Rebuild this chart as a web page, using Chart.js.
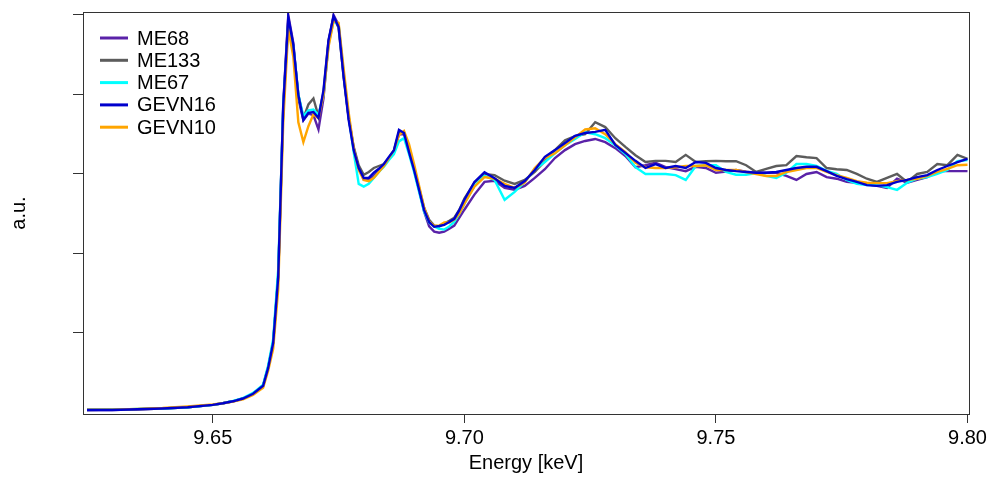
<!DOCTYPE html>
<html>
<head>
<meta charset="utf-8">
<script src="https://cdn.jsdelivr.net/npm/chart.js@4.4.1/dist/chart.umd.min.js"></script>
<style>
  html, body { margin: 0; padding: 0; background: #fff; }
  #wrap { width: 991px; height: 477px; }
</style>
</head>
<body>
<div id="wrap"><canvas id="xanesChart"></canvas></div>
<script>
// Energy grid [keV]
const energy = [
  9.625, 9.630, 9.635, 9.640, 9.645, 9.650, 9.652, 9.654, 9.656, 9.658,
  9.659, 9.660, 9.661, 9.662, 9.663, 9.664, 9.665, 9.666, 9.667, 9.668,
  9.669, 9.670, 9.671, 9.672, 9.673, 9.674, 9.675, 9.676, 9.677, 9.678,
  9.679, 9.680, 9.681, 9.682, 9.683, 9.684, 9.685, 9.686, 9.687, 9.688,
  9.689, 9.690, 9.691, 9.692, 9.693, 9.694, 9.695, 9.696, 9.697, 9.698,
  9.699, 9.700, 9.702, 9.704, 9.706, 9.708, 9.710, 9.712, 9.714, 9.716,
  9.718, 9.720, 9.722, 9.724, 9.726, 9.728, 9.730, 9.732, 9.734, 9.736,
  9.738, 9.740, 9.742, 9.744, 9.746, 9.748, 9.750, 9.752, 9.754, 9.756,
  9.758, 9.760, 9.762, 9.764, 9.766, 9.768, 9.770, 9.772, 9.774, 9.776,
  9.778, 9.780, 9.782, 9.784, 9.786, 9.788, 9.790, 9.792, 9.794, 9.796,
  9.798, 9.800
];

// normalised absorption (a.u.)
const me68 = [
  0.006, 0.006, 0.008, 0.010, 0.013, 0.019, 0.023, 0.028, 0.035, 0.047,
  0.057, 0.068, 0.114, 0.178, 0.345, 0.775, 1.000, 0.930, 0.790, 0.735,
  0.752, 0.748, 0.712, 0.790, 0.930, 1.000, 0.975, 0.850, 0.742, 0.665,
  0.615, 0.585, 0.585, 0.595, 0.608, 0.622, 0.640, 0.655, 0.700, 0.700,
  0.662, 0.612, 0.560, 0.505, 0.468, 0.455, 0.452, 0.455, 0.462, 0.470,
  0.490, 0.510, 0.548, 0.580, 0.583, 0.565, 0.560, 0.570, 0.590, 0.612,
  0.640, 0.660, 0.675, 0.683, 0.688, 0.680, 0.665, 0.645, 0.617, 0.622,
  0.628, 0.617, 0.612, 0.607, 0.618, 0.615, 0.603, 0.606, 0.610, 0.606,
  0.603, 0.603, 0.603, 0.595, 0.585, 0.600, 0.605, 0.592, 0.588, 0.580,
  0.578, 0.574, 0.570, 0.565, 0.588, 0.578, 0.585, 0.592, 0.607, 0.607,
  0.607, 0.607
];
const me133 = [
  0.006, 0.007, 0.008, 0.010, 0.013, 0.019, 0.023, 0.028, 0.035, 0.047,
  0.057, 0.067, 0.112, 0.175, 0.340, 0.765, 0.985, 0.920, 0.800, 0.740,
  0.775, 0.790, 0.745, 0.805, 0.935, 0.995, 0.968, 0.845, 0.742, 0.668,
  0.622, 0.598, 0.605, 0.615, 0.620, 0.625, 0.640, 0.658, 0.705, 0.705,
  0.660, 0.615, 0.565, 0.515, 0.485, 0.470, 0.468, 0.475, 0.482, 0.490,
  0.510, 0.538, 0.578, 0.600, 0.597, 0.583, 0.575, 0.585, 0.605, 0.632,
  0.660, 0.685, 0.695, 0.700, 0.730, 0.718, 0.690, 0.668, 0.647, 0.630,
  0.633, 0.633, 0.630, 0.648, 0.630, 0.632, 0.633, 0.632, 0.632, 0.622,
  0.605, 0.613, 0.620, 0.622, 0.645, 0.642, 0.640, 0.615, 0.612, 0.610,
  0.600, 0.588, 0.580, 0.590, 0.600, 0.580, 0.600, 0.605, 0.625, 0.622,
  0.648, 0.638
];
const me67 = [
  0.007, 0.007, 0.009, 0.010, 0.013, 0.019, 0.023, 0.029, 0.036, 0.049,
  0.059, 0.070, 0.118, 0.185, 0.360, 0.768, 0.975, 0.920, 0.800, 0.745,
  0.760, 0.762, 0.748, 0.800, 0.925, 0.985, 0.975, 0.855, 0.745, 0.655,
  0.575, 0.568, 0.575, 0.590, 0.605, 0.618, 0.635, 0.650, 0.682, 0.690,
  0.650, 0.605, 0.555, 0.505, 0.478, 0.468, 0.462, 0.460, 0.468, 0.480,
  0.500, 0.525, 0.570, 0.595, 0.585, 0.535, 0.555, 0.580, 0.612, 0.630,
  0.652, 0.672, 0.688, 0.705, 0.700, 0.690, 0.672, 0.650, 0.617, 0.600,
  0.600, 0.600, 0.597, 0.585, 0.620, 0.622, 0.622, 0.605, 0.598, 0.598,
  0.602, 0.595, 0.590, 0.603, 0.625, 0.625, 0.620, 0.608, 0.600, 0.585,
  0.575, 0.572, 0.572, 0.567, 0.560, 0.578, 0.588, 0.592, 0.600, 0.610,
  0.632, 0.635
];
const gevn16 = [
  0.006, 0.006, 0.008, 0.010, 0.013, 0.019, 0.023, 0.028, 0.035, 0.047,
  0.057, 0.067, 0.112, 0.175, 0.341, 0.772, 0.994, 0.925, 0.799, 0.736,
  0.754, 0.756, 0.741, 0.811, 0.937, 0.997, 0.970, 0.844, 0.736, 0.660,
  0.615, 0.590, 0.590, 0.603, 0.613, 0.625, 0.643, 0.660, 0.711, 0.703,
  0.655, 0.610, 0.560, 0.509, 0.479, 0.467, 0.469, 0.472, 0.479, 0.487,
  0.509, 0.535, 0.580, 0.604, 0.589, 0.570, 0.565, 0.582, 0.610, 0.643,
  0.660, 0.678, 0.696, 0.703, 0.706, 0.711, 0.673, 0.653, 0.633, 0.615,
  0.625, 0.615, 0.620, 0.615, 0.630, 0.628, 0.615, 0.610, 0.607, 0.605,
  0.603, 0.603, 0.605, 0.610, 0.615, 0.618, 0.618, 0.607, 0.595, 0.587,
  0.580, 0.572, 0.570, 0.572, 0.580, 0.585, 0.592, 0.597, 0.610, 0.620,
  0.630, 0.638
];
const gevn10 = [
  0.007, 0.007, 0.009, 0.011, 0.015, 0.020, 0.023, 0.027, 0.033, 0.044,
  0.053, 0.062, 0.105, 0.160, 0.310, 0.730, 0.965, 0.895, 0.730, 0.680,
  0.720, 0.750, 0.740, 0.800, 0.920, 0.985, 0.980, 0.865, 0.755, 0.665,
  0.610, 0.585, 0.582, 0.590, 0.605, 0.620, 0.640, 0.660, 0.698, 0.708,
  0.675, 0.625, 0.570, 0.515, 0.480, 0.470, 0.470, 0.478, 0.478, 0.485,
  0.500, 0.525, 0.568, 0.592, 0.588, 0.575, 0.565, 0.578, 0.615, 0.640,
  0.652, 0.672, 0.692, 0.712, 0.715, 0.700, 0.675, 0.655, 0.628, 0.617,
  0.615, 0.615, 0.617, 0.620, 0.620, 0.622, 0.610, 0.610, 0.610, 0.605,
  0.600, 0.595, 0.595, 0.605, 0.610, 0.615, 0.615, 0.605, 0.597, 0.590,
  0.582, 0.578, 0.577, 0.577, 0.582, 0.585, 0.588, 0.595, 0.605, 0.613,
  0.622, 0.623
];

const seriesNames = ['ME68', 'ME133', 'ME67', 'GEVN16', 'GEVN10'];
const seriesColors = ['#5a22a8', '#5c5c5c', '#00ffff', '#0000cd', '#ffa500'];
const seriesData = [me68, me133, me67, gevn16, gevn10];
const drawOrder = [4, 3, 2, 0, 1]; // lower = drawn on top

const xTicks = [9.65, 9.70, 9.75, 9.80];
const yTicks = [0.2, 0.4, 0.6, 0.8, 1.0];

const FONT = '"Liberation Sans", Arial, Helvetica, sans-serif';

window.addEventListener("DOMContentLoaded", () => {
  const datasets = seriesNames.map((name, i) => ({
    label: name,
    data: energy.map((e, k) => ({ x: e, y: seriesData[i][k] })),
    borderColor: seriesColors[i],
    borderWidth: 2.4,
    pointRadius: 0,
    tension: 0,
    fill: false,
    order: drawOrder[i]
  }));

  // box round the plot region
  const frame = {
    id: 'frame',
    afterDraw(chart) {
      const { ctx, chartArea: a } = chart;
      ctx.save();
      ctx.strokeStyle = '#333';
      ctx.lineWidth = 1;
      ctx.strokeRect(a.left + 0.5, a.top + 0.5, a.right - a.left, a.bottom - a.top);
      ctx.restore();
    }
  };

  // legend inside top-left, no box
  const innerLegend = {
    id: 'innerLegend',
    afterDraw(chart) {
      const { ctx, chartArea: a } = chart;
      ctx.save();
      ctx.font = '20px ' + FONT;
      ctx.textBaseline = 'middle';
      chart.data.datasets.forEach((ds, i) => {
        const y = a.top + 26 + i * 22.3;
        ctx.strokeStyle = ds.borderColor;
        ctx.lineWidth = 3;
        ctx.beginPath();
        ctx.moveTo(a.left + 17, y);
        ctx.lineTo(a.left + 45, y);
        ctx.stroke();
        ctx.fillStyle = '#000';
        ctx.fillText(ds.label, a.left + 54, y + 1);
      });
      ctx.restore();
    }
  };

  const ctx = document.getElementById('xanesChart').getContext('2d');
  new Chart(ctx, {
    type: 'line',
    data: { datasets },
    plugins: [frame, innerLegend],
    options: {
      responsive: true,
      maintainAspectRatio: false,
      animation: false,
      layout: { padding: { top: 12, right: 22, left: 0, bottom: 0 } },
      plugins: {
        legend: { display: false },
        tooltip: { enabled: false }
      },
      scales: {
        x: {
          type: 'linear',
          min: 9.6242,
          max: 9.8003,
          afterBuildTicks: (scale) => { scale.ticks = xTicks.map(v => ({ value: v })); },
          afterFit: (scale) => { scale.height = 63; },
          grid: { drawOnChartArea: false, drawTicks: true, tickLength: 9, color: '#333' },
          border: { display: false },
          ticks: {
            color: '#000',
            padding: 3,
            maxRotation: 0,
            font: { family: FONT, size: 20 },
            callback: (v) => v.toFixed(2)
          },
          title: {
            display: true,
            text: 'Energy [keV]',
            color: '#000',
            padding: { top: 0, bottom: 2 },
            font: { family: FONT, size: 20 }
          }
        },
        y: {
          type: 'linear',
          min: -0.004,
          max: 1.0075,
          afterBuildTicks: (scale) => { scale.ticks = yTicks.map(v => ({ value: v })); },
          afterFit: (scale) => { scale.width = 83; },
          grid: { drawOnChartArea: false, drawTicks: true, tickLength: 10, color: '#333' },
          border: { display: false },
          ticks: { callback: () => '' },
          title: {
            display: true,
            text: 'a.u.',
            color: '#000',
            padding: { top: 7, bottom: 0 },
            font: { family: FONT, size: 20 }
          }
        }
      }
    }
  });
});
</script>
</body>
</html>
